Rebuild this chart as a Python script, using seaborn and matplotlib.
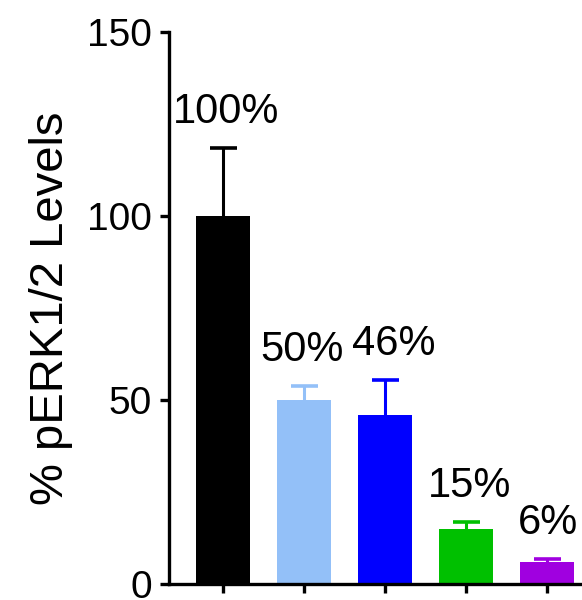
import matplotlib
matplotlib.use("Agg")
import matplotlib.pyplot as plt
import seaborn as sns
import pandas as pd
import numpy as np

# Data
groups = ["G1", "G2", "G3", "G4", "G5"]
means = [100, 50, 46, 15, 6]
errors = [18.5, 3.9, 9.3, 1.9, 0.8]
labels = ["100%", "50%", "46%", "15%", "6%"]
colors = ["#000000", "#93C0F8", "#0000FF", "#00C000", "#A000E0"]
yticks = [0, 50, 100, 150]

# Small horizontal nudges (points) so neighbouring value labels don't collide
label_nudge = [2.5, -1.8, 6.1, 2.2, 0.4]
cap_half = 0.167

sns.set_style("ticks")
plt.rcParams["font.family"] = ["Liberation Sans", "DejaVu Sans"]
plt.rcParams["text.color"] = "black"
plt.rcParams["axes.labelcolor"] = "black"
plt.rcParams["xtick.color"] = "black"
plt.rcParams["ytick.color"] = "black"

df = pd.DataFrame({"group": groups, "value": means})

fig = plt.figure(figsize=(5.82, 6.0), dpi=100)
ax = fig.add_axes([169 / 582, 16 / 600, 1 - 169 / 582, 552 / 600])

sns.barplot(data=df, x="group", y="value", hue="group", palette=colors,
            order=groups, hue_order=groups, legend=False, errorbar=None,
            width=0.667, linewidth=0, saturation=1, ax=ax)

# Upward-only error bars in each bar's colour, value label above
for i, (m, e, c) in enumerate(zip(means, errors, colors)):
    ax.vlines(i, m, m + e, colors=c, linewidth=2.2, zorder=3)
    ax.hlines(m + e, i - cap_half, i + cap_half, colors=c, linewidth=2.6,
              zorder=3)
    ax.annotate(labels[i], xy=(i, m + e), xytext=(label_nudge[i], 18),
                textcoords="offset points", ha="center", va="baseline",
                fontsize=30, color="black")

ax.set_xlim(-0.667, 4.43)
ax.set_ylim(0, 150)
ax.set_yticks(yticks)
ax.set_yticklabels([str(t) for t in yticks])
ax.set_xticks(range(len(groups)))
ax.set_xticklabels([])
ax.set_xlabel("")
ax.set_ylabel("% pERK1/2 Levels", fontsize=34, labelpad=10, color="black")

sns.despine(ax=ax)
for side in ("left", "bottom"):
    ax.spines[side].set_linewidth(2.4)
    ax.spines[side].set_color("black")
ax.tick_params(axis="both", direction="out", length=6.5, width=2.4,
               colors="black", labelsize=28)
ax.tick_params(axis="y", pad=6)
ax.spines["left"].set_capstyle("projecting")

fig.savefig("out.png", dpi=100)
